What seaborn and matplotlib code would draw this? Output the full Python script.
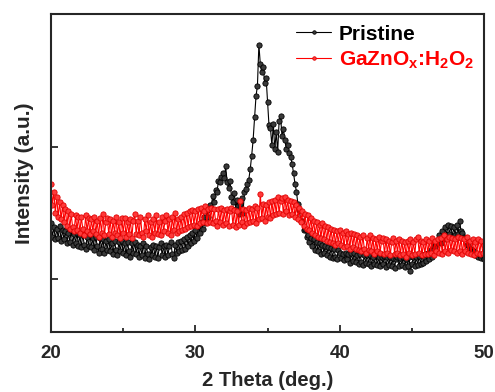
import numpy as np
import pandas as pd
import matplotlib
matplotlib.use("Agg")
import matplotlib.pyplot as plt
import seaborn as sns

# 2 theta grid (deg), 0.1 deg step, one row below = one degree
two_theta = np.round(np.arange(20.0, 50.001, 0.1), 1)

# intensities (a.u.)
pristine = [
    1420, 1320, 1390, 1300, 1380, 1310, 1400, 1290, 1370, 1300,  # 20
    1360, 1270, 1350, 1280, 1370, 1260, 1340, 1270, 1350, 1250,  # 21
    1330, 1240, 1340, 1260, 1230, 1320, 1250, 1340, 1240, 1310,  # 22
    1220, 1320, 1250, 1200, 1310, 1230, 1300, 1200, 1290, 1220,  # 23
    1300, 1210, 1270, 1190, 1290, 1220, 1180, 1280, 1210, 1290,  # 24
    1200, 1270, 1180, 1280, 1210, 1170, 1270, 1200, 1280, 1190,  # 25
    1260, 1170, 1250, 1180, 1270, 1160, 1250, 1190, 1150, 1240,  # 26
    1180, 1260, 1170, 1250, 1160, 1240, 1270, 1180, 1250, 1170,  # 27
    1260, 1180, 1250, 1280, 1190, 1160, 1260, 1200, 1280, 1210,  # 28
    1290, 1220, 1300, 1230, 1320, 1250, 1330, 1270, 1350, 1290,  # 29
    1370, 1310, 1400, 1350, 1430, 1380, 1470, 1420, 1520, 1470,  # 30
    1560, 1540, 1630, 1580, 1670, 1660, 1740, 1730, 1770, 1800,  # 31
    1760, 1850, 1730, 1690, 1740, 1620, 1580, 1650, 1530, 1600,  # 32
    1490, 1570, 1610, 1500, 1660, 1680, 1720, 1750, 1830, 1930,  # 33
    2050, 2220, 2380, 2460, 2770, 2620, 2560, 2600, 2480, 2520,  # 34
    2340, 2160, 2140, 2010, 2170, 1980, 2110, 1960, 2190, 2230,  # 35
    2080, 2130, 2050, 1980, 2010, 1950, 1920, 1870, 1800, 1720,  # 36
    1660, 1570, 1520, 1440, 1440, 1370, 1380, 1320, 1330, 1280,  # 37
    1310, 1250, 1300, 1220, 1280, 1210, 1270, 1190, 1260, 1200,  # 38
    1250, 1180, 1245, 1170, 1235, 1160, 1230, 1170, 1150, 1220,  # 39
    1195, 1160, 1190, 1140, 1200, 1150, 1190, 1120, 1195, 1135,  # 40
    1200, 1125, 1185, 1110, 1190, 1130, 1105, 1180, 1120, 1185,  # 41
    1115, 1180, 1100, 1170, 1110, 1185, 1105, 1165, 1095, 1170,  # 42
    1110, 1175, 1090, 1165, 1105, 1170, 1100, 1160, 1085, 1155,  # 43
    1165, 1095, 1160, 1105, 1170, 1090, 1155, 1100, 1165, 1060,  # 44
    1110, 1170, 1100, 1165, 1105, 1175, 1115, 1180, 1120, 1190,  # 45
    1135, 1200, 1150, 1220, 1170, 1250, 1240, 1270, 1270, 1330,  # 46
    1270, 1360, 1300, 1390, 1330, 1410, 1340, 1400, 1320, 1390,  # 47
    1330, 1410, 1340, 1440, 1360, 1350, 1320, 1310, 1260, 1260,  # 48
    1230, 1230, 1210, 1210, 1180, 1190, 1170, 1180, 1160, 1170,  # 49
    1150,                                                        # 50
]

gazno_h2o2 = [
    1720, 1560, 1660, 1500, 1620, 1470, 1580, 1450, 1560, 1430,  # 20
    1530, 1400, 1510, 1380, 1490, 1390, 1360, 1480, 1370, 1470,  # 21
    1350, 1470, 1380, 1330, 1480, 1360, 1460, 1340, 1450, 1360,  # 22
    1470, 1340, 1440, 1320, 1460, 1350, 1490, 1330, 1430, 1460,  # 23
    1340, 1450, 1320, 1440, 1350, 1470, 1330, 1430, 1310, 1460,  # 24
    1350, 1460, 1320, 1430, 1340, 1450, 1310, 1440, 1490, 1340,  # 25
    1440, 1330, 1470, 1350, 1320, 1450, 1360, 1480, 1330, 1430,  # 26
    1320, 1450, 1350, 1480, 1340, 1430, 1330, 1470, 1360, 1440,  # 27
    1480, 1350, 1450, 1330, 1470, 1370, 1500, 1350, 1450, 1360,  # 28
    1470, 1370, 1490, 1380, 1500, 1390, 1510, 1400, 1520, 1410,  # 29
    1510, 1400, 1530, 1420, 1540, 1430, 1510, 1550, 1420, 1530,  # 30
    1430, 1540, 1420, 1530, 1440, 1400, 1530, 1430, 1540, 1410,  # 31
    1520, 1420, 1530, 1400, 1510, 1540, 1410, 1520, 1390, 1510,  # 32
    1410, 1590, 1430, 1530, 1400, 1520, 1420, 1540, 1430, 1530,  # 33
    1440, 1550, 1420, 1540, 1450, 1640, 1460, 1570, 1440, 1560,  # 34
    1470, 1580, 1460, 1590, 1480, 1600, 1490, 1620, 1500, 1590,  # 35
    1610, 1490, 1620, 1510, 1600, 1480, 1590, 1490, 1580, 1470,  # 36
    1560, 1450, 1540, 1430, 1510, 1400, 1490, 1380, 1480, 1370,  # 37
    1460, 1350, 1440, 1330, 1430, 1320, 1410, 1310, 1420, 1300,  # 38
    1400, 1290, 1390, 1280, 1380, 1270, 1370, 1260, 1360, 1270,  # 39
    1370, 1260, 1350, 1240, 1360, 1250, 1340, 1230, 1350, 1240,  # 40
    1340, 1230, 1330, 1220, 1320, 1210, 1330, 1230, 1200, 1310,  # 41
    1220, 1330, 1210, 1310, 1190, 1300, 1210, 1320, 1200, 1290,  # 42
    1310, 1190, 1300, 1200, 1290, 1180, 1280, 1310, 1190, 1290,  # 43
    1200, 1300, 1180, 1290, 1190, 1280, 1170, 1290, 1200, 1300,  # 44
    1180, 1280, 1190, 1300, 1320, 1200, 1290, 1180, 1280, 1190,  # 45
    1300, 1190, 1290, 1200, 1310, 1180, 1290, 1210, 1300, 1200,  # 46
    1310, 1190, 1330, 1210, 1300, 1200, 1320, 1220, 1310, 1210,  # 47
    1300, 1200, 1320, 1210, 1310, 1190, 1300, 1210, 1320, 1200,  # 48
    1290, 1190, 1300, 1180, 1280, 1200, 1300, 1190, 1290, 1200,  # 49
    1260,                                                        # 50
]

df = pd.DataFrame({"two_theta": two_theta, "Pristine": pristine, "GaZnOx": gazno_h2o2})

sns.set_style("ticks")
plt.rcParams["font.family"] = ["Liberation Sans", "DejaVu Sans"]
plt.rcParams["font.weight"] = "bold"
plt.rcParams["mathtext.fontset"] = "custom"
plt.rcParams["mathtext.bf"] = "Liberation Sans:bold"
plt.rcParams["mathtext.rm"] = "Liberation Sans:bold"

fig = plt.figure(figsize=(4.95, 3.92), dpi=100)
ax = fig.add_axes([0.103, 0.153, 0.875, 0.811])

sns.lineplot(data=df, x="two_theta", y="Pristine", ax=ax, color="black",
             marker="o", markersize=3.8, markeredgecolor="black",
             markeredgewidth=0.6, markerfacecolor="#3a3a3a",
             linewidth=0.8, label="Pristine")
sns.lineplot(data=df, x="two_theta", y="GaZnOx", ax=ax, color="red",
             marker="o", markersize=3.8, markeredgecolor="#e00000",
             markeredgewidth=0.6, markerfacecolor="#ff3a3a", linewidth=0.8,
             label=r"GaZnO$_\mathbf{x}$:H$_\mathbf{2}$O$_\mathbf{2}$")

ax.set_xlim(20, 50)
ax.set_ylim(600, 3000)
ax.set_xticks([20, 30, 40, 50])
ax.set_xticks([25, 35, 45], minor=True)
ax.set_yticks([1000, 2000])
ax.set_yticklabels([])
ax.tick_params(axis="both", direction="in", width=1.3, length=5,
               labelsize=13.5, pad=9)
ax.tick_params(axis="x", which="minor", direction="in", width=1.3, length=3)
for lbl in ax.get_xticklabels():
    lbl.set_fontweight("bold")
for s in ax.spines.values():
    s.set_linewidth(1.5)
    s.set_visible(True)

ax.set_xlabel("2 Theta (deg.)", fontsize=14.5, fontweight="bold", labelpad=7)
ax.set_ylabel("Intensity (a.u.)", fontsize=15, fontweight="bold", labelpad=3)

leg = ax.legend(loc="upper right", frameon=False, fontsize=15,
                handlelength=1.7, handletextpad=0.35, labelspacing=0.3,
                borderaxespad=0.1, numpoints=1)
for txt, col in zip(leg.get_texts(), ["black", "red"]):
    txt.set_color(col)
    txt.set_fontweight("bold")
for h in leg.legend_handles:
    h.set_markersize(2.5)

fig.savefig("out.png", dpi=100)
